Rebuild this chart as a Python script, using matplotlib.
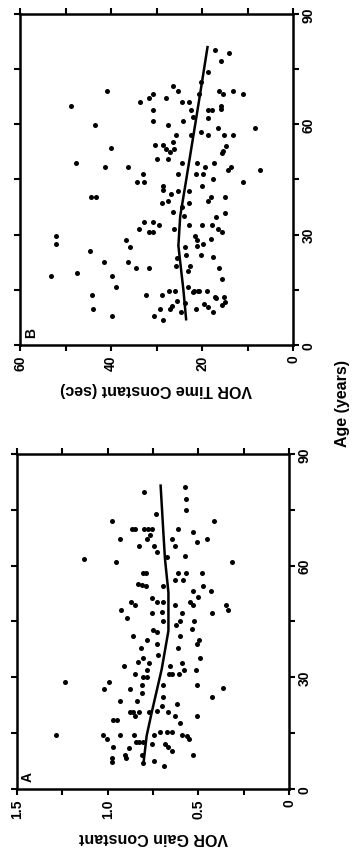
import matplotlib
matplotlib.use("Agg")
import matplotlib.pyplot as plt

plt.rcParams['font.family'] = ['Liberation Sans', 'DejaVu Sans']
plt.rcParams['font.weight'] = 'bold'

# Panel A: age (years) vs VOR gain constant
age_a = [61.1, 60.9, 61.8, 58.0, 58.0, 58.0, 58.0, 56.2, 56.2, 58.0, 55.1, 54.8, 54.4,
         54.4, 53.3, 54.4, 53.3, 51.5, 51.2, 50.3, 50.3, 50.3, 49.3, 50.1, 49.3, 49.3,
         48.2, 49.3, 48.2, 47.3, 47.6, 47.3, 47.3, 45.9, 45.0, 45.0, 44.1, 45.0, 43.0,
         42.8, 42.3, 41.0, 40.0, 41.0, 40.0, 39.0, 39.0, 37.9, 37.9, 36.0, 35.1, 35.1,
         34.0, 33.9, 33.9, 33.1, 33.1, 32.0, 32.0, 32.0, 30.9, 30.9, 30.9, 30.9, 30.0,
         30.0, 28.8, 28.8, 26.9, 26.9, 27.9, 27.9, 27.8, 27.0, 25.8, 24.6, 24.8, 23.7,
         23.7, 22.8, 22.4, 20.6, 20.6, 20.6, 19.5, 20.8, 21.0, 20.6, 19.5, 19.5, 18.4,
         18.4, 17.6, 14.5, 14.5, 13.4, 14.5, 14.5, 14.5, 15.2, 15.2, 15.2, 14.5, 14.3,
         13.4, 12.7, 12.7, 12.7, 12.1, 12.1, 11.2, 10.9, 11.2, 10.3, 9.2, 9.0, 8.2,
         8.2, 7.3, 9.0, 7.4, 6.3, 7.0,
         79.9, 81.0, 77.9, 75.0, 71.9, 73.9, 69.8, 69.8, 69.8, 69.8, 69.8, 69.8, 69.1,
         72.1, 67.2, 65.2, 67.2, 68.2, 65.2, 67.2, 65.2, 66.3, 67.2, 63.6, 62.2, 62.7]
gain_a = [0.313, 0.954, 1.128, 0.803, 0.789, 0.610, 0.570, 0.629, 0.583, 0.478, 0.834,
          0.812, 0.789, 0.693, 0.531, 0.472, 0.432, 0.500, 0.757, 0.730, 0.697, 0.871,
          0.849, 0.546, 0.528, 0.629, 0.928, 0.347, 0.334, 0.754, 0.702, 0.592, 0.427,
          0.895, 0.697, 0.601, 0.623, 0.524, 0.537, 0.752, 0.730, 0.858, 0.785, 0.601,
          0.494, 0.509, 0.726, 0.816, 0.610, 0.720, 0.491, 0.807, 0.831, 0.770, 0.592,
          0.908, 0.656, 0.785, 0.577, 0.513, 0.849, 0.662, 0.647, 0.605, 0.807, 0.785,
          0.991, 1.235, 1.020, 0.877, 0.812, 0.693, 0.509, 0.362, 0.812, 0.697, 0.423,
          0.932, 0.840, 0.616, 0.702, 0.877, 0.858, 0.825, 0.849, 0.770, 0.730, 0.669,
          0.629, 0.509, 0.969, 0.947, 0.601, 1.285, 1.028, 1.005, 0.932, 0.853, 0.744,
          0.711, 0.675, 0.647, 0.592, 0.564, 0.550, 0.844, 0.825, 0.803, 0.757, 0.684,
          0.969, 0.880, 0.665, 0.647, 0.528, 0.904, 0.899, 0.978, 0.978, 0.812, 0.743,
          0.689, 0.803,
          0.798, 0.573, 0.570, 0.568, 0.974, 0.733, 0.868, 0.849, 0.800, 0.780, 0.757,
          0.614, 0.531, 0.414, 0.932, 0.825, 0.785, 0.766, 0.743, 0.643, 0.629, 0.509,
          0.450, 0.730, 0.675, 0.573]
fit_age_a = [6.7, 14.3, 20.6, 32.2, 42.5, 52.8, 61.8, 69.0, 81.5]
fit_gain_a = [0.803, 0.785, 0.757, 0.702, 0.665, 0.665, 0.684, 0.693, 0.708]

# Panel B: age (years) vs VOR time constant (sec)
age_b = [80.3, 79.3, 77.2, 74.3, 71.4, 70.3, 69.2, 69.2, 68.3, 67.2, 67.2, 66.0, 66.0,
         66.0, 68.3, 69.2, 68.3, 69.2, 68.3, 65.1, 64.0, 64.0, 64.0, 64.2, 65.1, 64.0,
         61.6, 60.9, 60.9, 59.8, 61.9, 59.8, 59.1, 59.1, 58.0, 57.1, 57.1, 57.1, 57.1,
         57.1, 55.3, 54.4, 54.4, 53.3, 52.4, 53.3, 53.6, 54.2, 52.8, 52.2, 50.6, 50.6,
         49.5, 48.3, 48.5, 49.5, 49.5, 48.5, 49.5, 48.5, 47.6, 47.6, 46.5, 46.5, 46.5,
         46.5, 45.1, 44.2, 44.2, 44.4, 43.3, 43.3, 42.2, 42.0, 42.0, 41.1, 40.3, 40.3,
         40.3, 40.3, 39.2, 38.6, 39.2, 37.4, 38.6, 36.1, 35.2, 35.9, 34.7, 33.5, 33.5,
         32.6, 31.5, 30.6, 30.6, 31.5, 32.6, 32.6, 32.6, 31.5, 30.6, 29.5, 27.5, 28.5,
         26.6, 29.7, 28.5, 28.8, 27.5, 26.8, 26.6, 25.5, 23.6, 24.5, 24.5, 23.8, 22.7,
         22.7, 20.8, 20.8, 21.6, 21.6, 20.2, 20.8, 18.7, 19.6, 18.7, 17.9, 15.7, 13.7,
         13.7, 13.7, 14.8, 14.8, 14.3, 14.8, 14.8, 13.0, 13.0,
         9.7, 7.9, 7.9, 9.8, 9.8, 6.8, 8.9, 9.8, 11.1, 10.2, 8.9, 12.7, 10.9, 11.8, 15.7,
         14.7, 14.7, 12.0, 11.5, 10.5]
tc_b = [17.1, 14.0, 15.9, 18.6, 20.2, 26.4, 25.3, 40.9, 30.7, 31.7, 28.0, 33.6, 24.5,
        22.8, 20.6, 16.2, 15.5, 13.3, 10.9, 48.8, 30.7, 18.6, 17.9, 15.9, 15.9, 22.4,
        18.6, 30.8, 24.1, 27.5, 22.0, 43.5, 8.4, 16.6, 20.2, 22.4, 18.8, 15.2, 13.3,
        25.8, 26.3, 30.3, 28.5, 27.9, 27.0, 26.1, 40.1, 14.7, 15.3, 15.7, 29.8, 27.5,
        47.7, 41.3, 36.3, 24.5, 21.0, 19.3, 17.3, 13.7, 14.2, 7.3, 32.9, 25.2, 21.3,
        19.7, 17.5, 34.2, 32.7, 10.9, 28.6, 20.0, 28.5, 25.2, 22.8, 26.9, 44.5, 43.3,
        18.1, 15.0, 18.8, 28.9, 27.4, 24.5, 22.8, 26.3, 23.9, 15.0, 17.0, 32.7, 30.7,
        29.4, 33.8, 31.6, 30.8, 26.2, 22.8, 19.9, 17.9, 16.4, 15.7, 52.1, 52.1, 36.6,
        35.9, 21.5, 21.2, 18.0, 19.7, 21.2, 23.7, 44.6, 25.6, 23.5, 20.2, 17.7, 41.5,
        36.3, 34.5, 31.6, 25.7, 22.6, 23.0, 16.2, 53.2, 47.4, 39.7, 15.7, 38.8, 44.2,
        32.4, 28.9, 27.3, 26.0, 21.9, 20.6, 19.0, 17.1, 15.2,
        44.0, 39.8, 30.5, 29.2, 27.0, 28.5, 24.6, 21.3, 19.5, 18.6, 17.5, 16.9, 15.7,
        14.9, 23.1, 21.8, 20.9, 25.5, 23.8, 26.5]
fit_age_b = [7.0, 15.0, 27.0, 35.0, 44.0, 60.0, 70.0, 81.0]
fit_tc_b = [23.5, 24.1, 25.2, 24.8, 23.6, 21.5, 20.2, 18.8]

fig = plt.figure(figsize=(3.56, 8.53), dpi=100)


def style_axes(ax, xmax, step, labels, xlabel, tag):
    ax.set_xlim(xmax, 0)
    ax.set_ylim(0, 90)
    ticks = [i * step for i in range(len(labels))]
    ax.set_xticks(ticks)
    ax.set_xticklabels(labels, rotation=90, fontsize=10, fontweight='bold')
    ax.set_yticks(range(0, 91, 15))
    ax.set_yticklabels(['0', '', '30', '', '60', '', '90'], rotation=90,
                       fontsize=10, fontweight='bold', va='center')
    ax.tick_params(direction='out', length=4, width=1.5, top=True, right=True,
                   left=True, labelleft=False, labelright=True)
    ax.tick_params(axis='y', pad=2)
    ax.tick_params(axis='x', pad=3)
    for sp in ax.spines.values():
        sp.set_linewidth(1.8)
    ax.set_xlabel(xlabel, rotation=180, fontsize=11.5, fontweight='bold', labelpad=8)
    ax.text(0.04, 0.04, tag, transform=ax.transAxes, rotation=90, fontsize=10,
            fontweight='bold', ha='center', va='center')


ax_b = fig.add_axes([0.0562, 0.5944, 0.767, 0.388])
ax_b.scatter(tc_b, age_b, s=13, color='black', linewidths=0)
ax_b.plot(fit_tc_b, fit_age_b, color='black', linewidth=1.8)
style_axes(ax_b, 60, 10, ['0', '', '20', '', '40', '', '60'],
           'VOR Time Constant (sec)', 'B')

ax_a = fig.add_axes([0.0478, 0.0739, 0.764, 0.3927])
ax_a.scatter(gain_a, age_a, s=13, color='black', linewidths=0)
ax_a.plot(fit_gain_a, fit_age_a, color='black', linewidth=1.8)
style_axes(ax_a, 1.5, 0.25, ['0', '', '0.5', '', '1.0', '', '1.5'],
           'VOR Gain Constant', 'A')

fig.text(343 / 356, 1 - 404 / 853, 'Age (years)', rotation=90, fontsize=11.5,
         fontweight='bold', ha='center', va='center')

fig.savefig('out.png', dpi=100)
